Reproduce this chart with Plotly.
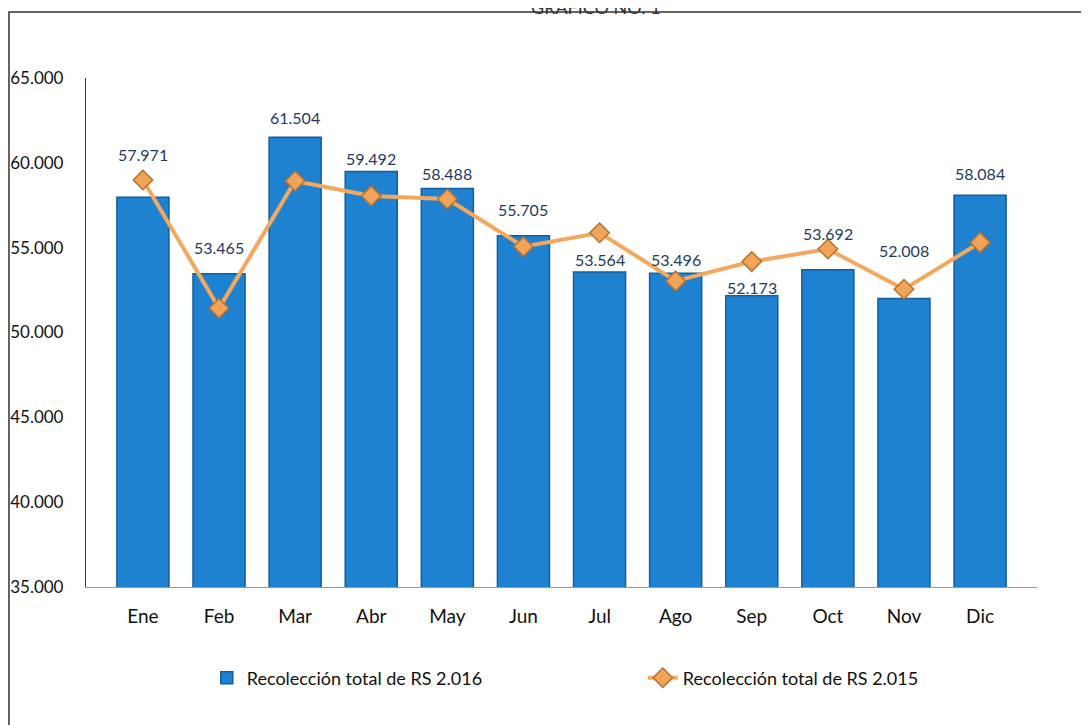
import plotly.graph_objects as go

months = ["Ene", "Feb", "Mar", "Abr", "May", "Jun", "Jul", "Ago", "Sep", "Oct", "Nov", "Dic"]
rs_2016 = [57971, 53465, 61504, 59492, 58488, 55705, 53564, 53496, 52173, 53692, 52008, 58084]
rs_2015 = [58990, 51430, 58930, 58050, 57870, 55060, 55880, 53040, 54180, 54920, 52550, 55300]
y_ticks = [35000, 40000, 45000, 50000, 55000, 60000, 65000]
y_tick_text = ["35.000", "40.000", "45.000", "50.000", "55.000", "60.000", "65.000"]
label_shift = [43, 26, 20, 13, 15, 26, 13, 14, 8, 36, 48, 22]

name_2016 = "Recolección total de RS 2.016"
name_2015 = "Recolección total de RS 2.015"

FONT = "Lato, Open Sans, sans-serif"


def fmt(v):
    return f"{v:,}".replace(",", ".")


fig = go.Figure()
fig.add_trace(go.Bar(
    x=months, y=rs_2016, name=name_2016, legend="legend",
    marker=dict(color="#1F82D0", line=dict(color="#135E9E", width=1.5)),
))
fig.add_trace(go.Scatter(
    x=months, y=rs_2015, name=name_2015, mode="lines+markers", legend="legend2",
    line=dict(color="#F4A85E", width=4),
    marker=dict(symbol="diamond", size=15, color="#F0A45A",
                line=dict(color="#B9712C", width=1.5)),
))

for m, v, s in zip(months, rs_2016, label_shift):
    fig.add_annotation(x=m, y=v, text=fmt(v), showarrow=False,
                       yshift=s, yanchor="middle",
                       font=dict(family=FONT, size=16, color="#1F3A5F"))

fig.add_annotation(xref="paper", yref="paper", x=0.536, y=1.1395,
                   text="GRÁFICO NO. 1", showarrow=False, yanchor="middle",
                   font=dict(family=FONT, size=18, color="#333333"))

fig.add_shape(type="rect", xref="paper", yref="paper",
              x0=-0.081, x1=1.08, y0=-0.32, y1=1.1297,
              line=dict(color="#333333", width=1.5), layer="below")

legend_style = dict(orientation="h", xanchor="left", y=-0.179, yanchor="middle",
                    bgcolor="rgba(0,0,0,0)",
                    font=dict(family=FONT, size=18, color="#111111"))

fig.update_layout(
    width=1089, height=725,
    margin=dict(l=78, r=60, t=70, b=146),
    paper_bgcolor="white", plot_bgcolor="white",
    bargap=0.316,
    showlegend=True,
    legend=dict(x=0.127, **legend_style),
    legend2=dict(x=0.5855, **legend_style),
    font=dict(family=FONT),
)
fig.update_xaxes(showline=True, linecolor="#999999", linewidth=1.2, automargin=False,
                 tickfont=dict(family=FONT, size=19, color="#111111"),
                 ticks="", ticklabelstandoff=12)
fig.update_yaxes(range=[35000, 65000], tickvals=y_ticks, ticktext=y_tick_text,
                 showgrid=False, zeroline=False, automargin=False,
                 showline=True, linecolor="#2A3A5A", linewidth=1.2,
                 tickfont=dict(family=FONT, size=17, color="#111111"),
                 ticks="", ticklabelstandoff=18)

fig.write_html("out.html")
